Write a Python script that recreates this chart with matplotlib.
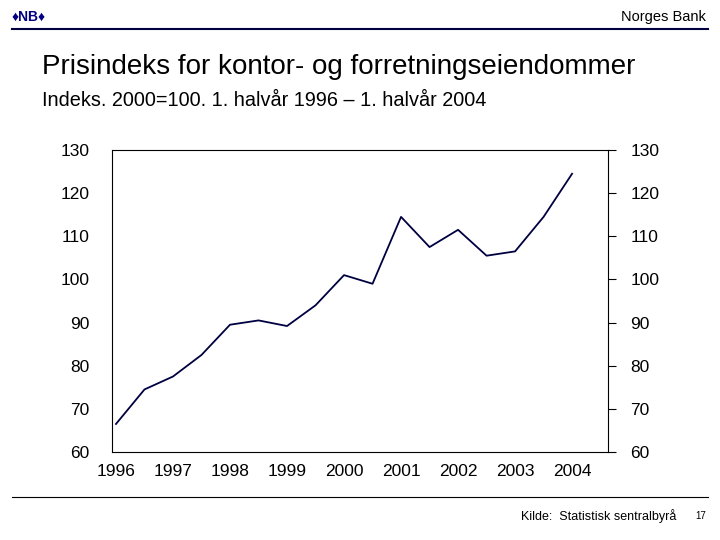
import numpy as np
import matplotlib.pyplot as plt

# Halvårsdata, 1. halvår 1996 - 1. halvår 2004
x_years = np.arange(1996, 2004.01, 0.5)
indeks = [66.5, 74.5, 77.5, 82.5, 89.5, 90.5, 89.2, 94.0, 101.0, 99.0,
          114.5, 107.5, 111.5, 105.5, 106.5, 114.5, 124.5]
year_ticks = list(range(1996, 2005))
y_ticks = list(range(60, 131, 10))

plt.rcParams['font.family'] = 'Liberation Sans'
fig = plt.figure(figsize=(7.2, 5.4), dpi=100)

# Topplinje med logo
fig.add_artist(plt.Line2D([12/720, 708/720], [1-29/540, 1-29/540], color='#000040', lw=1.5))
fig.text(12/720, 1-17/540, '\u2666NB\u2666', fontsize=10, fontweight='bold', color='#000080', va='center')
fig.text(706/720, 1-17/540, 'Norges Bank', fontsize=10.5, ha='right', va='center')
fig.text(42/720, 1-67/540, 'Prisindeks for kontor- og forretningseiendommer', fontsize=20, va='center')
fig.text(42/720, 1-101/540, 'Indeks. 2000=100. 1. halvår 1996 – 1. halvår 2004', fontsize=14.3, va='center')

ax = fig.add_axes([112/720, 1-452/540, 496/720, 302/540])
ax.plot(x_years, indeks, color='#000040', lw=1.3)
ax.set_xlim(1995.93, 2004.63)
ax.set_ylim(60, 130)
ax.set_xticks(year_ticks)
ax.set_yticks(y_ticks)
ax.tick_params(axis='x', length=0, labelsize=12.5, pad=9)
ax.tick_params(axis='y', length=0, labelsize=12.5, pad=10)
ax.tick_params(axis='y', which='both', right=True, labelright=True)
ax.tick_params(axis='y', which='major', right=True, length=6, direction='out', pad=10)
ax.tick_params(axis='y', left=False)
for s in ax.spines.values():
    s.set_linewidth(0.8)

fig.add_artist(plt.Line2D([12/720, 708/720], [1-497/540, 1-497/540], color='black', lw=0.8))
fig.text(676/720, 1-516/540, 'Kilde:  Statistisk sentralbyrå', fontsize=9, ha='right', va='center')
fig.text(706/720, 1-516/540, '17', fontsize=7, ha='right', va='center')

fig.savefig('out.png', dpi=100)
